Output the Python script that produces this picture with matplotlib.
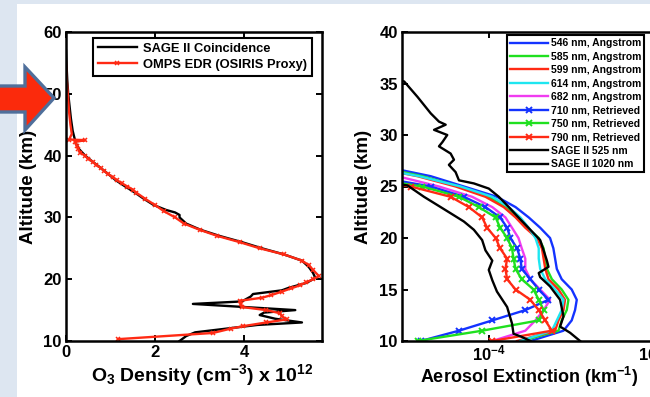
import matplotlib
matplotlib.use("Agg")
import matplotlib.pyplot as plt
from matplotlib.patches import Rectangle, Polygon
from matplotlib.ticker import LogLocator, NullLocator, NullFormatter

plt.rcParams['font.family'] = ['Liberation Sans', 'DejaVu Sans']
plt.rcParams['font.weight'] = 'bold'
plt.rcParams['mathtext.default'] = 'regular'

# ---------------- Left panel data: ozone number density (x 1e12 cm^-3) ----------------
sage_o3_alt = [57.0, 55.0, 52.0, 50.0, 48.0, 46.0, 44.0, 42.0, 41.0, 40.0, 39.0, 38.0, 37.0,
               36.0, 35.0, 34.0, 33.0, 32.0, 31.2, 30.8, 30.4, 30.0, 29.0, 28.0, 27.0, 26.0,
               25.0, 24.0, 23.0, 22.0, 21.0, 20.2, 19.4, 18.6, 18.2, 17.6, 17.2, 16.4, 16.0,
               15.0, 14.6, 14.2, 13.6, 13.0, 12.6, 12.0, 11.4, 10.8, 10.0]
sage_o3_val = [0.0, 0.01, 0.03, 0.05, 0.08, 0.11, 0.15, 0.22, 0.30, 0.43, 0.60, 0.78, 0.95,
               1.12, 1.33, 1.55, 1.75, 1.97, 2.25, 2.45, 2.55, 2.55, 2.70, 3.02, 3.45, 3.95,
               4.40, 4.90, 5.30, 5.45, 5.55, 5.60, 5.40, 5.00, 4.85, 4.20, 4.15, 3.95, 2.85,
               5.15, 4.45, 4.35, 4.70, 5.30, 4.30, 3.60, 2.90, 2.70, 2.55]

omps_o3_alt = [55.0, 53.0, 51.0, 49.0, 47.0, 45.0, 43.5, 42.6, 42.5, 42.2, 41.5, 41.0, 40.5,
               40.0, 39.5, 39.0, 38.5, 38.0, 37.5, 37.0, 36.5, 36.0, 35.5, 35.0, 34.5, 34.0,
               33.0, 32.0, 31.0, 30.0, 29.0, 28.0, 27.0, 26.0, 25.0, 24.0, 23.0, 22.3, 21.5,
               20.5, 20.0, 19.5, 19.0, 18.5, 18.0, 17.4, 17.0, 16.5, 16.0, 15.5, 15.0, 14.5,
               14.0, 13.5, 13.0, 12.4, 12.0, 11.3, 10.3]
omps_o3_val = [0.0, 0.01, 0.03, 0.05, 0.07, 0.10, 0.13, 0.07, 0.43, 0.20, 0.25, 0.28, 0.32,
               0.42, 0.50, 0.60, 0.68, 0.78, 0.86, 0.95, 1.05, 1.15, 1.26, 1.38, 1.50, 1.58,
               1.78, 2.00, 2.20, 2.45, 2.65, 3.00, 3.40, 3.90, 4.35, 4.90, 5.30, 5.45, 5.55,
               5.68, 5.55, 5.40, 5.25, 5.05, 4.85, 4.60, 4.40, 3.90, 3.92, 3.95, 4.50, 4.80,
               4.85, 4.96, 4.50, 3.98, 3.70, 3.30, 1.17]

o3_legend = ['SAGE II Coincidence', 'OMPS EDR (OSIRIS Proxy)']

# ---------------- Right panel data: aerosol extinction (km^-1) ----------------
grid_alt = [10, 11, 12, 13, 14, 15, 16, 17, 18, 19, 20, 21, 22, 23, 24, 25, 26, 27]

ang_546 = [1.78e-4, 2.82e-4, 3.16e-4, 3.31e-4, 3.39e-4, 3.16e-4, 2.75e-4, 2.57e-4, 2.51e-4,
           2.45e-4, 2.34e-4, 2.04e-4, 1.74e-4, 1.45e-4, 1.12e-4, 7.08e-5, 4.47e-5, 2.24e-5]
ang_585 = [1.58e-4, 2.63e-4, 2.75e-4, 2.95e-4, 3.02e-4, 2.75e-4, 2.40e-4, 2.24e-4, 2.19e-4,
           2.14e-4, 2.00e-4, 1.70e-4, 1.48e-4, 1.26e-4, 1.00e-4, 6.61e-5, 3.98e-5, 2.00e-5]
ang_599 = [1.48e-4, 2.51e-4, 2.63e-4, 2.82e-4, 2.88e-4, 2.63e-4, 2.29e-4, 2.19e-4, 2.14e-4,
           2.09e-4, 1.95e-4, 1.66e-4, 1.45e-4, 1.23e-4, 9.55e-5, 6.31e-5, 3.72e-5, 1.78e-5]
ang_614 = [1.55e-4, 2.40e-4, 2.57e-4, 2.75e-4, 2.82e-4, 2.51e-4, 2.19e-4, 2.04e-4, 2.00e-4,
           2.00e-4, 1.91e-4, 1.74e-4, 1.55e-4, 1.32e-4, 1.05e-4, 6.76e-5, 3.80e-5, 1.78e-5]
ang_682 = [1.05e-4, 1.66e-4, 1.91e-4, 2.14e-4, 2.34e-4, 2.04e-4, 1.78e-4, 1.66e-4, 1.66e-4,
           1.58e-4, 1.51e-4, 1.38e-4, 1.26e-4, 1.05e-4, 7.94e-5, 5.01e-5, 2.82e-5, 1.26e-5]

ret_alt = [10, 11, 12, 13, 14, 15, 16, 17, 18, 19, 20, 21, 22, 23, 24, 25, 26]
ret_710 = [3.89e-5, 6.61e-5, 1.05e-4, 1.66e-4, 2.29e-4, 2.00e-4, 1.78e-4, 1.58e-4, 1.55e-4,
           1.48e-4, 1.35e-4, 1.29e-4, 1.17e-4, 9.55e-5, 7.08e-5, 4.47e-5, 2.00e-5]
ret_750 = [3.72e-5, 9.12e-5, 2.00e-4, 2.14e-4, 2.00e-4, 1.86e-4, 1.58e-4, 1.45e-4, 1.41e-4,
           1.38e-4, 1.29e-4, 1.17e-4, 1.10e-4, 8.71e-5, 6.61e-5, 3.98e-5, 1.58e-5]
ret_790 = [1.05e-4, 2.40e-4, 2.19e-4, 2.00e-4, 1.78e-4, 1.45e-4, 1.29e-4, 1.26e-4, 1.29e-4,
           1.17e-4, 1.10e-4, 9.77e-5, 9.12e-5, 7.59e-5, 5.89e-5, 3.39e-5, 1.26e-5]

sage525_alt = [35.6, 35.2, 33.7, 32.1, 31.3, 31.0, 30.5, 30.0, 29.3, 28.9, 28.2, 27.6, 27.1,
               26.4, 25.6, 25.3, 24.8, 24.0, 23.0, 22.0, 20.8, 19.8, 18.8, 17.8, 17.2, 16.6,
               16.2, 15.3, 14.0, 12.4, 11.4, 10.8, 10.0]
sage525_val = [2.24e-5, 3.09e-5, 3.72e-5, 4.47e-5, 5.01e-5, 5.50e-5, 4.68e-5, 5.62e-5, 5.25e-5,
               5.01e-5, 5.89e-5, 6.17e-5, 5.75e-5, 6.31e-5, 6.61e-5, 8.13e-5, 1.00e-4, 1.15e-4,
               1.32e-4, 1.51e-4, 1.78e-4, 2.04e-4, 2.14e-4, 2.24e-4, 2.29e-4, 2.00e-4, 2.04e-4,
               2.34e-4, 2.69e-4, 2.82e-4, 2.69e-4, 3.09e-4, 3.55e-4]

sage1020_alt = [25.4, 25.1, 24.0, 23.0, 22.2, 21.6, 20.8, 19.8, 18.8, 17.8, 16.9, 15.9, 14.8,
                13.3, 11.7, 10.7, 10.4, 10.0]
sage1020_val = [2.51e-5, 3.24e-5, 4.07e-5, 5.13e-5, 6.17e-5, 7.08e-5, 8.13e-5, 9.12e-5, 9.55e-5,
                1.05e-4, 1.00e-4, 1.05e-4, 1.12e-4, 1.29e-4, 1.38e-4, 1.41e-4, 1.58e-4, 1.78e-4]

aer_labels = ['546 nm, Angstrom', '585 nm, Angstrom', '599 nm, Angstrom', '614 nm, Angstrom',
              '682 nm, Angstrom', '710 nm, Retrieved', '750 nm, Retrieved', '790 nm, Retrieved',
              'SAGE II 525 nm', 'SAGE II 1020 nm']

# ---------------- styling ----------------
W, H = 650, 397
BLUE = '#1433ff'
GREEN = '#1fe01f'
RED = '#ff2a14'
CYAN = '#1ee6f0'
MAGENTA = '#f03cf0'
BG = '#dde6f1'

fig = plt.figure(figsize=(W / 100, H / 100), dpi=100, facecolor=BG)
fig.patches.append(Rectangle((17 / W, -0.01), 1.01 - 17 / W, 1.01 - 4 / H,
                             transform=fig.transFigure,
                             facecolor='white', edgecolor='none', zorder=-10))


def style_axes(ax):
    for s in ax.spines.values():
        s.set_linewidth(1.8)
        s.set_color('black')
    ax.tick_params(which='both', direction='in', length=4, width=1.4, top=True, right=True,
                   labelsize=12, pad=3, colors='black')


# ---------- left axes ----------
ax1 = fig.add_axes([66 / W, 1 - 341 / H, 256 / W, 309 / H])
ax1.plot(sage_o3_val, sage_o3_alt, color='black', lw=1.7, label=o3_legend[0])
mark_idx = [i for i, a in enumerate(omps_o3_alt) if a <= 42.6]
ax1.plot(omps_o3_val, omps_o3_alt, color=RED, lw=1.7, marker='x', ms=3.5, mew=1.1,
         markevery=mark_idx, label=o3_legend[1])
ax1.set_xlim(0, 5.75)
ax1.set_ylim(10, 60)
ax1.set_xticks([0, 2, 4])
ax1.set_yticks([10, 20, 30, 40, 50, 60])
style_axes(ax1)
ax1.set_xlabel('O$_3$ Density (cm$^{-3}$) x 10$^{12}$', fontsize=14, fontweight='bold')
ax1.set_ylabel('Altitude (km)', fontsize=13.5, fontweight='bold')
ax1.xaxis.label.set_va('center')
ax1.yaxis.label.set_va('center')
ax1.xaxis.set_label_coords(0.53, -0.11)
ax1.yaxis.set_label_coords(-0.145, 0.5)
leg1 = ax1.legend(loc='upper left', bbox_to_anchor=(0.105, 0.982), fontsize=9.3,
                  handlelength=3.0, handletextpad=0.5, borderpad=0.4, labelspacing=0.3,
                  fancybox=False, framealpha=1, edgecolor='black', borderaxespad=0)
leg1.get_frame().set_linewidth(1.5)

# ---------- right axes ----------
ax2 = fig.add_axes([402 / W, 1 - 341 / H, 259.6 / W, 309 / H])
lw = 1.7
ax2.plot(ang_546, grid_alt, color=BLUE, lw=lw, label=aer_labels[0])
ax2.plot(ang_585, grid_alt, color=GREEN, lw=lw, label=aer_labels[1])
ax2.plot(ang_599, grid_alt, color=RED, lw=lw, label=aer_labels[2])
ax2.plot(ang_614, grid_alt, color=CYAN, lw=lw, label=aer_labels[3])
ax2.plot(ang_682, grid_alt, color=MAGENTA, lw=lw, label=aer_labels[4])
ax2.plot(ret_710, ret_alt, color=BLUE, lw=lw, marker='x', ms=5, mew=1.4, label=aer_labels[5])
ax2.plot(ret_750, ret_alt, color=GREEN, lw=lw, marker='x', ms=5, mew=1.4, label=aer_labels[6])
ax2.plot(ret_790, ret_alt, color=RED, lw=lw, marker='x', ms=5, mew=1.4, label=aer_labels[7])
ax2.plot(sage525_val, sage525_alt, color='black', lw=1.7, label=aer_labels[8])
ax2.plot(sage1020_val, sage1020_alt, color='black', lw=1.7, label=aer_labels[9])
ax2.set_xscale('log')
ax2.set_xlim(3e-5, 1.1e-3)
ax2.set_ylim(10, 40)
ax2.xaxis.set_major_locator(LogLocator(base=10, numticks=10))
ax2.xaxis.set_minor_locator(NullLocator())
ax2.xaxis.set_minor_formatter(NullFormatter())
ax2.set_yticks([10, 15, 20, 25, 30, 35, 40])
style_axes(ax2)
ax2.tick_params(axis='x', pad=2)
ax2.set_xlabel('Aerosol Extinction (km$^{-1}$)', fontsize=13, fontweight='bold')
ax2.set_ylabel('Altitude (km)', fontsize=13.5, fontweight='bold')
ax2.xaxis.label.set_va('center')
ax2.yaxis.label.set_va('center')
ax2.xaxis.set_label_coords(0.49, -0.115)
ax2.yaxis.set_label_coords(-0.147, 0.5)
leg2 = ax2.legend(loc='upper left', bbox_to_anchor=(0.405, 0.99), fontsize=7.5, numpoints=1,
                  handlelength=3.6, handletextpad=0.3, borderpad=0.3, labelspacing=0.33,
                  fancybox=False, framealpha=1, edgecolor='black', borderaxespad=0)
leg2.get_frame().set_linewidth(1.5)

# ---------- decorative arrow pointing at 50 km ----------
arrow_px = [(-6, 86), (25, 86), (25, 67), (54, 98), (25, 130), (25, 112), (-6, 112)]
arrow = Polygon([(x / W, 1 - y / H) for x, y in arrow_px], closed=True,
                transform=fig.transFigure, facecolor='#fb2a0c', edgecolor='#4f6f9b',
                linewidth=2.4, zorder=20)
fig.patches.append(arrow)

fig.savefig('out.png', dpi=100, facecolor=BG)
